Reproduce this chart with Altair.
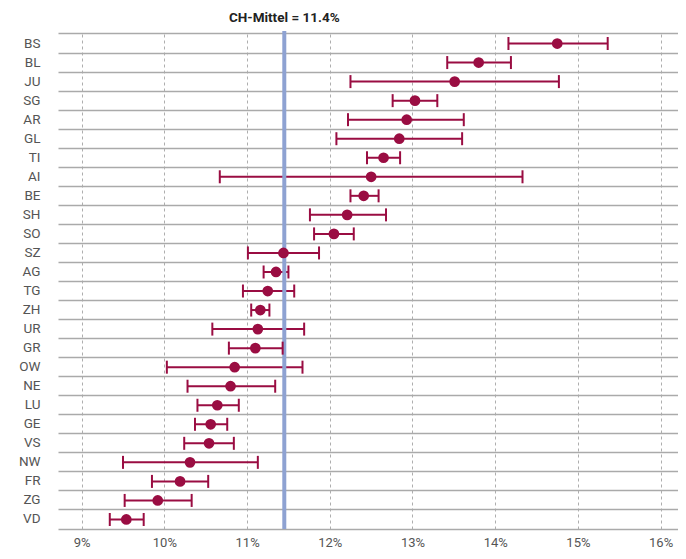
import altair as alt
import pandas as pd

cantons = ["BS", "BL", "JU", "SG", "AR", "GL", "TI", "AI", "BE", "SH", "SO", "SZ", "AG",
           "TG", "ZH", "UR", "GR", "OW", "NE", "LU", "GE", "VS", "NW", "FR", "ZG", "VD"]
means = [14.75, 13.80, 13.51, 13.03, 12.93, 12.84, 12.65, 12.50, 12.41, 12.21, 12.05, 11.44, 11.35,
         11.25, 11.16, 11.13, 11.10, 10.85, 10.80, 10.64, 10.56, 10.54, 10.31, 10.19, 9.92, 9.54]
lows = [14.16, 13.42, 12.25, 12.76, 12.22, 12.08, 12.45, 10.67, 12.25, 11.76, 11.81, 11.01, 11.20,
        10.95, 11.05, 10.58, 10.78, 10.03, 10.28, 10.40, 10.37, 10.24, 9.50, 9.85, 9.52, 9.34]
highs = [15.36, 14.19, 14.77, 13.30, 13.62, 13.60, 12.85, 14.33, 12.59, 12.68, 12.29, 11.87, 11.50,
         11.57, 11.27, 11.69, 11.43, 11.67, 11.34, 10.90, 10.76, 10.84, 11.13, 10.53, 10.33, 9.75]
ch_mean = 11.45
ch_label = "CH-Mittel = 11.4%"
x_ticks = [9, 10, 11, 12, 13, 14, 15, 16]

df = pd.DataFrame({"canton": cantons, "mean": means, "low": lows, "high": highs})

FONT = "Roboto"
MAROON = "#9a0d42"

xscale = alt.Scale(domain=[8.714, 16.21], nice=False, zero=False)
yscale = alt.Scale(domain=cantons, paddingInner=0, paddingOuter=0)

x_axis = alt.Axis(values=x_ticks, labelExpr="datum.value + '%'", title=None,
                  grid=True, gridDash=[3, 3], gridColor="#999", gridWidth=0.8,
                  ticks=False, domain=True, domainColor="#aaaaaa", domainWidth=1.5,
                  labelFont=FONT, labelFontSize=13, labelColor="#555",
                  labelPadding=7)
y_axis = alt.Axis(title=None, ticks=False, domain=False, grid=True,
                  bandPosition=0, gridColor="#aaaaaa", gridWidth=1.5,
                  labelFont=FONT, labelFontSize=13.5, labelColor="#555",
                  labelPadding=18)

base = alt.Chart(df)

bars = base.mark_rule(color=MAROON, strokeWidth=2).encode(
    x=alt.X("low:Q", scale=xscale, axis=x_axis),
    x2="high:Q",
    y=alt.Y("canton:N", scale=yscale, axis=y_axis, sort=cantons),
)
cap_lo = base.mark_tick(color=MAROON, thickness=2, size=13, opacity=1).encode(
    x=alt.X("low:Q", scale=xscale), y=alt.Y("canton:N", scale=yscale, sort=cantons))
cap_hi = base.mark_tick(color=MAROON, thickness=2, size=13, opacity=1).encode(
    x=alt.X("high:Q", scale=xscale), y=alt.Y("canton:N", scale=yscale, sort=cantons))
pts = base.mark_circle(color=MAROON, size=115, opacity=1).encode(
    x=alt.X("mean:Q", scale=xscale), y=alt.Y("canton:N", scale=yscale, sort=cantons))

mline = alt.Chart(pd.DataFrame({"v": [ch_mean], "t": [ch_label]}))
vline = mline.mark_rule(color="#8ea2d2", strokeWidth=4).encode(
    x=alt.X("v:Q", scale=xscale), y=alt.value(-3), y2=alt.value(495))
vtext = mline.mark_text(font=FONT, fontSize=13.5, fontWeight="bold", color="#222",
                        baseline="middle", align="center").encode(
    x=alt.X("v:Q", scale=xscale), y=alt.value(-16), text="t:N")

chart = alt.layer(bars, vline, cap_lo, cap_hi, pts, vtext).properties(
    width=620, height=495,
    autosize=alt.AutoSizeParams(type="none"),
    padding={"left": 50, "top": 26, "right": 0, "bottom": 22},
    background="white",
).configure_view(stroke=None)

chart.save("out.html", embed_options={"renderer": "svg", "actions": False})
